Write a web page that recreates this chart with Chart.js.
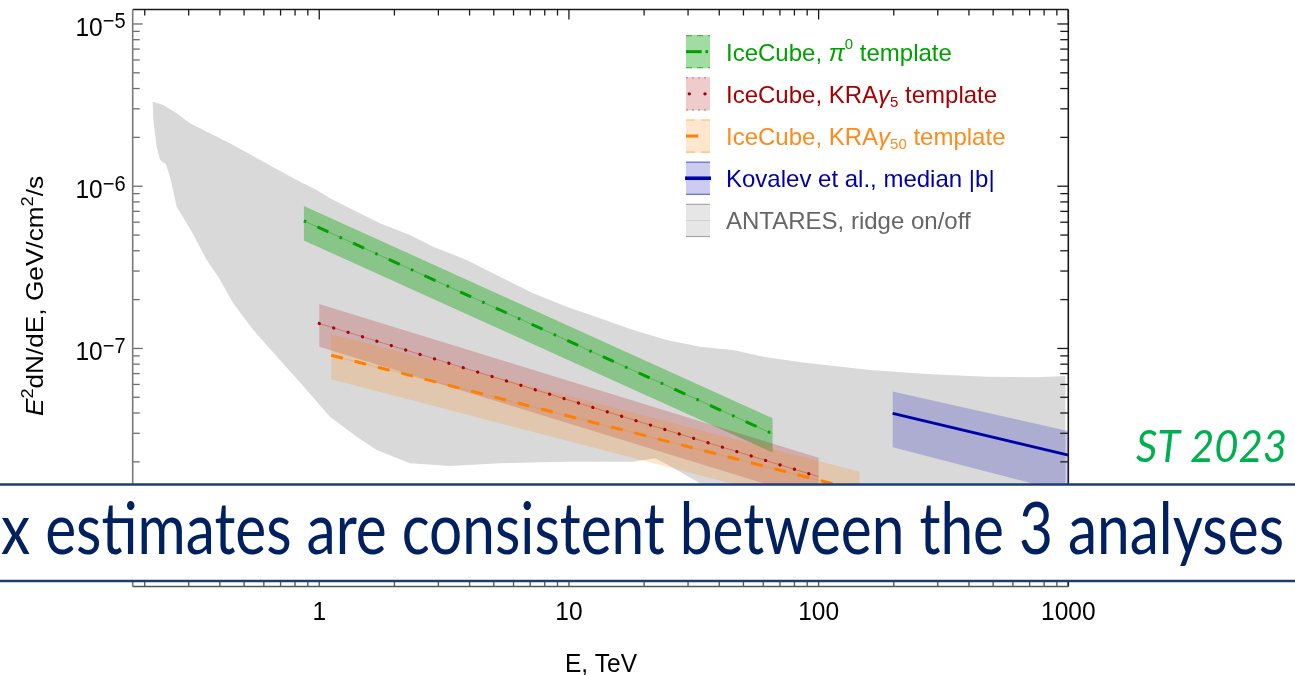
<!DOCTYPE html>
<html>
<head>
<meta charset="utf-8">
<script src="https://cdn.jsdelivr.net/npm/chart.js@4.4.1/dist/chart.umd.min.js"></script>
<style>
  html, body { margin: 0; padding: 0; background: #fff; overflow: hidden; }
  #wrap { position: relative; width: 1295px; height: 675px; }
  canvas { display: block; }
</style>
</head>
<body>
<div id="wrap"><canvas id="c" width="1295" height="675"></canvas></div>
<script>
// ---------------- axis ranges and ticks ----------------
const energyMin = 0.179, energyMax = 1000;        // TeV
const fluxMin = 3.41e-9, fluxMax = 1.228e-5;       // GeV cm^-2 s^-1
const xTickValues = [1, 10, 100, 1000];
const xTickLabels = ['1', '10', '100', '1000'];
const yTickExponents = [-5, -6, -7, -8];

// ---------------- ANTARES ridge on/off band ----------------
const antaresUpperEnergy = [0.2153, 0.2372, 0.2685, 0.3034, 0.3327, 0.4389, 0.5968, 0.8118, 0.9763, 1.104,
  1.287, 1.500, 1.750, 2.308, 2.861, 3.894, 5.293, 7.194, 9.79, 13.31, 18.09, 24.62, 33.47, 45.5, 60.0,
  86.8, 160.6, 270.7, 471, 746.6, 973.6];
const antaresUpperFlux = [3.32e-6, 3.17e-6, 2.815e-6, 2.443e-6, 2.276e-6, 1.839e-6, 1.417e-6, 1.093e-6, 9.48e-7, 8.43e-7,
  7.48e-7, 6.65e-7, 5.91e-7, 5.01e-7, 4.24e-7, 3.51e-7, 2.77e-7, 2.19e-7, 1.81e-7, 1.535e-7, 1.30e-7, 1.128e-7, 1.026e-7, 9.79e-8, 8.90e-8,
  8.18e-8, 7.37e-8, 6.97e-8, 6.70e-8, 6.65e-8, 6.77e-8];
const antaresLowerEnergy = [0.2164, 0.2233, 0.2301, 0.2432, 0.2524, 0.2685, 0.3083, 0.3539, 0.3940, 0.4523,
  0.5441, 0.6961, 0.8902, 1.104, 1.412, 1.698, 2.308, 3.338, 5.293, 9.79, 18.09, 22.1, 25.4, 33.47, 58.2,
  211.5, 973.6];
const antaresLowerFlux = [2.56e-6, 1.753e-6, 1.458e-6, 1.359e-6, 1.146e-6, 7.48e-7, 5.25e-7, 3.51e-7, 2.77e-7, 1.90e-7,
  1.30e-7, 8.49e-8, 5.55e-8, 3.80e-8, 2.86e-8, 2.37e-8, 1.96e-8, 1.887e-8, 1.96e-8, 2.005e-8, 2.005e-8, 2.105e-8, 1.887e-8, 1.476e-8, 1.01e-8,
  7.6e-9, 6.15e-9];

// ---------------- IceCube, pi0 template ----------------
const pi0Energy = [0.868, 65.4];
const pi0Flux   = [6.12e-7, 2.98e-8];
const pi0Upper  = [7.55e-7, 3.71e-8];
const pi0Lower  = [4.62e-7, 2.28e-8];

// ---------------- IceCube, KRA-gamma 5 template ----------------
const kra5Energy = [1, 100];
const kra5Flux   = [1.425e-7, 1.62e-8];
const kra5Upper  = [1.88e-7, 2.12e-8];
const kra5Lower  = [1.026e-7, 1.16e-8];

// ---------------- IceCube, KRA-gamma 50 template ----------------
const kra50Energy = [1.117, 146];
const kra50Flux   = [9.08e-8, 1.33e-8];
const kra50Upper  = [1.228e-7, 1.74e-8];
const kra50Lower  = [6.46e-8, 9.15e-9];

// ---------------- Kovalev et al., median |b| ----------------
const kovalevEnergy = [198, 1000];
const kovalevFlux   = [3.98e-8, 2.20e-8];
const kovalevUpper  = [5.42e-8, 3.10e-8];
const kovalevLower  = [2.46e-8, 1.29e-8];

// ---------------- legend texts ----------------
const legendLabels = [
  [{t: 'IceCube, '}, {t: 'π', i: true}, {t: '0', s: 'sup'}, {t: ' template'}],
  [{t: 'IceCube, KRA'}, {t: 'γ', i: true}, {t: '5', s: 'sub'}, {t: ' template'}],
  [{t: 'IceCube, KRA'}, {t: 'γ', i: true}, {t: '50', s: 'sub'}, {t: ' template'}],
  [{t: 'Kovalev et al., median |b|'}],
  [{t: 'ANTARES, ridge on/off'}]
];
const bannerText = 'x estimates are consistent between the 3 analyses';
const stampText = 'ST 2023';

// ---------------- styles ----------------
const FONT = '"Liberation Sans", Arial, Helvetica, sans-serif';
const C = {
  grey: '#d9d9d9',
  green: '#00a000', greenFill: 'rgba(0,160,0,0.37)',
  red: '#a80000', redFill: 'rgba(170,0,0,0.2)',
  orange: '#ff8000', orangeFill: 'rgba(255,128,0,0.2)',
  blue: '#0000a8', blueFill: 'rgba(0,0,180,0.2)'
};

function pts(E, F) { return E.map((e, i) => ({x: e, y: F[i]})); }
function shape(E1, F1, E2, F2) { return [...pts(E1, F1), ...pts(E2, F2).reverse()]; }

function bandDataset(data, color, order) {
  return {data, backgroundColor: color, borderColor: 'rgba(0,0,0,0)', borderWidth: 0,
          pointRadius: 0, fill: 'shape', tension: 0, order};
}
function lineDataset(E, F, color, width, dash, cap, order) {
  return {data: pts(E, F), borderColor: color, borderWidth: width, borderDash: dash,
          borderCapStyle: cap, pointRadius: 0, fill: false, tension: 0, order};
}

const datasets = [
  bandDataset(shape(antaresUpperEnergy, antaresUpperFlux, antaresLowerEnergy, antaresLowerFlux), C.grey, 30),
  bandDataset(shape(pi0Energy, pi0Upper, pi0Energy, pi0Lower), C.greenFill, 29),
  bandDataset(shape(kra5Energy, kra5Upper, kra5Energy, kra5Lower), C.redFill, 28),
  bandDataset(shape(kra50Energy, kra50Upper, kra50Energy, kra50Lower), C.orangeFill, 27),
  bandDataset(shape(kovalevEnergy, kovalevUpper, kovalevEnergy, kovalevLower), C.blueFill, 26),
  lineDataset(pi0Energy, pi0Flux, 'rgba(0,160,0,0.45)', 0.8, [], 'butt', 20),
  lineDataset(pi0Energy, pi0Flux, C.green, 3, [2.5, 12.35, 12, 12.35], 'butt', 19),
  lineDataset(kra5Energy, kra5Flux, 'rgba(170,0,0,0.35)', 0.8, [], 'butt', 18),
  lineDataset(kra5Energy, kra5Flux, C.red, 3.2, [0.1, 14.96], 'round', 17),
  lineDataset(kra50Energy, kra50Flux, 'rgba(255,128,0,0.35)', 0.8, [], 'butt', 16),
  lineDataset(kra50Energy, kra50Flux, C.orange, 3, [12, 12.07], 'butt', 15),
  lineDataset(kovalevEnergy, kovalevFlux, C.blue, 3, [], 'butt', 14)
];

// ---------------- text helpers ----------------
function runFont(r, size, small) {
  return (r.i ? 'italic ' : '') + (r.s ? small : size) + 'px ' + FONT;
}
function runsWidth(ctx, runs, size, small) {
  let w = 0;
  for (const r of runs) { ctx.font = runFont(r, size, small); w += ctx.measureText(r.t).width; }
  return w;
}
function drawRuns(ctx, runs, x, y, size, small, color, align, supOff, subOff) {
  const w = runsWidth(ctx, runs, size, small);
  let cx = align === 'right' ? x - w : (align === 'center' ? x - w / 2 : x);
  ctx.fillStyle = color;
  ctx.textAlign = 'left';
  ctx.textBaseline = 'alphabetic';
  for (const r of runs) {
    ctx.font = runFont(r, size, small);
    const dy = r.s === 'sup' ? -supOff : (r.s === 'sub' ? subOff : 0);
    ctx.fillText(r.t, cx, y + dy);
    cx += ctx.measureText(r.t).width;
  }
}
function logTicks(lo, hi) {
  const out = [];
  for (let k = Math.floor(Math.log10(lo)); k <= Math.ceil(Math.log10(hi)); k++) {
    for (let m = 1; m <= 9; m++) {
      const v = m * Math.pow(10, k);
      if (v >= lo * 0.9999 && v <= hi * 1.0001) out.push({v, major: m === 1});
    }
  }
  return out;
}
function seg(ctx, x1, y1, x2, y2) { ctx.beginPath(); ctx.moveTo(x1, y1); ctx.lineTo(x2, y2); ctx.stroke(); }

// ---------------- frame, ticks, axis labels, legend ----------------
const framePlugin = {
  id: 'frame',
  afterDatasetsDraw(chart) {
    const ctx = chart.ctx;
    const {left, right, top, bottom} = chart.chartArea;
    const xs = chart.scales.x, ys = chart.scales.y;
    ctx.save();

    // ticks
    ctx.lineWidth = 1.3;
    for (const t of logTicks(energyMin, energyMax)) {
      const px = xs.getPixelForValue(t.v);
      const len = t.major ? 10 : 6;
      ctx.strokeStyle = '#1a1a1a'; seg(ctx, px, top, px, top + len);
      ctx.strokeStyle = '#555'; seg(ctx, px, bottom, px, bottom - len);
    }
    for (const t of logTicks(fluxMin, fluxMax)) {
      const py = ys.getPixelForValue(t.v);
      const len = t.major ? 10 : 7;
      ctx.strokeStyle = '#6e6e6e'; seg(ctx, left, py, left + len, py);
      ctx.strokeStyle = '#1a1a1a'; seg(ctx, right, py, right - len - 1, py);
    }

    // frame lines
    ctx.lineWidth = 1.6;
    ctx.strokeStyle = '#1a1a1a';
    seg(ctx, left, top, right, top);
    seg(ctx, right, top, right, bottom);
    ctx.strokeStyle = '#7a7a7a';
    seg(ctx, left, top, left, bottom);
    ctx.strokeStyle = '#555';
    seg(ctx, left, bottom, right, bottom);

    // y tick labels 10^k
    for (const k of yTickExponents) {
      const py = ys.getPixelForValue(Math.pow(10, k));
      ctx.save();
      ctx.translate(125.5, py + 12);
      ctx.scale(1, 1.07);
      drawRuns(ctx, [{t: '10'}, {t: '\u2212' + (-k), s: 'sup'}], 0, 0, 24.5, 20, '#000', 'right', 7.2, 0);
      ctx.restore();
    }
    // x tick labels
    xTickValues.forEach((v, i) => {
      const px = xs.getPixelForValue(v);
      ctx.save();
      ctx.translate(px, 620);
      ctx.scale(1, 1.07);
      ctx.font = '24.5px ' + FONT; ctx.fillStyle = '#000'; ctx.textAlign = 'center'; ctx.textBaseline = 'alphabetic';
      ctx.fillText(xTickLabels[i], 0, 0);
      ctx.restore();
    });

    // axis titles
    ctx.save();
    ctx.translate((left + right) / 2 + 0.5, 671.5);
    ctx.scale(1, 1.07);
    ctx.font = '24.5px ' + FONT; ctx.fillStyle = '#000'; ctx.textAlign = 'center';
    ctx.fillText('E, TeV', 0, 0);
    ctx.restore();

    ctx.save();
    ctx.translate(42.7, 296);
    ctx.rotate(-Math.PI / 2);
    ctx.scale(1.07, 1);
    drawRuns(ctx, [{t: 'E', i: true}, {t: '2', s: 'sup'}, {t: 'dN/dE, GeV/cm'}, {t: '2', s: 'sup'}, {t: '/s'}],
             0, 0, 24.5, 17, '#000', 'center', 10, 0);
    ctx.restore();

    // legend
    const rows = [
      {text: C.green, fill: 'rgba(0,160,0,0.37)', edge: 'rgba(0,160,0,0.55)', edgeDash: [6, 5]},
      {text: C.red, fill: 'rgba(170,0,0,0.2)', edge: 'rgba(170,0,0,0.4)', edgeDash: [2, 4]},
      {text: '#ff8a1c', fill: 'rgba(255,128,0,0.2)', edge: 'rgba(255,128,0,0.45)', edgeDash: [9, 6]},
      {text: C.blue, fill: 'rgba(0,0,180,0.2)', edge: 'rgba(0,0,170,0.5)', edgeDash: []},
      {text: '#666', fill: '#e6e6e6', edge: '#a8a8a8', edgeDash: []}
    ];
    const sx = 686, sw = 24, sh = 33.3;
    rows.forEach((r, i) => {
      const sy = 35 + i * 42.2;
      const cy = sy + sh / 2;
      ctx.fillStyle = r.fill;
      ctx.fillRect(sx, sy, sw, sh);
      ctx.save();
      ctx.strokeStyle = r.edge; ctx.lineWidth = 1.2; ctx.setLineDash(r.edgeDash);
      seg(ctx, sx, sy + 0.6, sx + sw, sy + 0.6);
      seg(ctx, sx, sy + sh - 0.6, sx + sw, sy + sh - 0.6);
      ctx.restore();
      ctx.save();
      if (i === 0) {
        ctx.strokeStyle = C.green; ctx.lineWidth = 3;
        seg(ctx, sx, cy, sx + 15.7, cy);
        seg(ctx, sx + 19.5, cy, sx + 22, cy);
      } else if (i === 1) {
        ctx.fillStyle = C.red;
        ctx.beginPath(); ctx.arc(sx + 3.3, cy, 1.7, 0, Math.PI * 2); ctx.fill();
        ctx.beginPath(); ctx.arc(sx + 19, cy, 1.7, 0, Math.PI * 2); ctx.fill();
      } else if (i === 2) {
        ctx.strokeStyle = C.orange; ctx.lineWidth = 3;
        seg(ctx, sx, cy, sx + 12.3, cy);
      } else if (i === 3) {
        ctx.strokeStyle = C.blue; ctx.lineWidth = 3.6;
        seg(ctx, sx - 1, cy, sx + sw + 1, cy);
      } else {
        ctx.strokeStyle = '#d2d2d2'; ctx.lineWidth = 1;
        seg(ctx, sx, cy, sx + sw, cy);
      }
      ctx.restore();
      drawRuns(ctx, legendLabels[i], 726, 60.7 + i * 42.15, 24, 15, r.text, 'left', 12, 4);
    });

    ctx.restore();
  },
  afterDraw(chart) {
    const ctx = chart.ctx;
    const W = chart.width;
    ctx.save();
    // slide banner across the plot
    ctx.fillStyle = '#ffffff';
    ctx.fillRect(0, 484, W, 97);
    ctx.strokeStyle = '#1f3c74'; ctx.lineWidth = 2.4;
    seg(ctx, 0, 484.5, W, 484.5);
    seg(ctx, 0, 581, W, 581);
    ctx.font = '66px Lato, "Open Sans", sans-serif';
    const bw = ctx.measureText(bannerText).width;
    ctx.save();
    ctx.translate(1, 554.3);
    ctx.scale(1283 / bw, 36 / (0.5065 * 66));
    ctx.fillStyle = '#002060'; ctx.textAlign = 'left'; ctx.textBaseline = 'alphabetic';
    ctx.fillText(bannerText, 0, 0);
    ctx.restore();

    // year stamp
    ctx.font = 'italic 42px Lato, "Open Sans", sans-serif';
    const tw = ctx.measureText(stampText).width;
    ctx.save();
    ctx.translate(1136, 461.7);
    ctx.scale(151 / tw, 31.7 / (0.7165 * 42));
    ctx.fillStyle = '#00b050'; ctx.textAlign = 'left';
    ctx.fillText(stampText, 0, 0);
    ctx.restore();
    ctx.restore();
  }
};

new Chart(document.getElementById('c'), {
  type: 'line',
  data: {datasets},
  options: {
    responsive: false,
    animation: false,
    devicePixelRatio: 1,
    events: [],
    layout: {padding: {left: 132.7, top: 9.5, right: 1295 - 1068.3, bottom: 675 - 586.5}},
    plugins: {legend: {display: false}, tooltip: {enabled: false}, title: {display: false}},
    scales: {
      x: {type: 'logarithmic', min: energyMin, max: energyMax, bounds: 'data', display: false},
      y: {type: 'logarithmic', min: fluxMin, max: fluxMax, bounds: 'data', display: false}
    }
  },
  plugins: [framePlugin]
});
</script>
</body>
</html>
